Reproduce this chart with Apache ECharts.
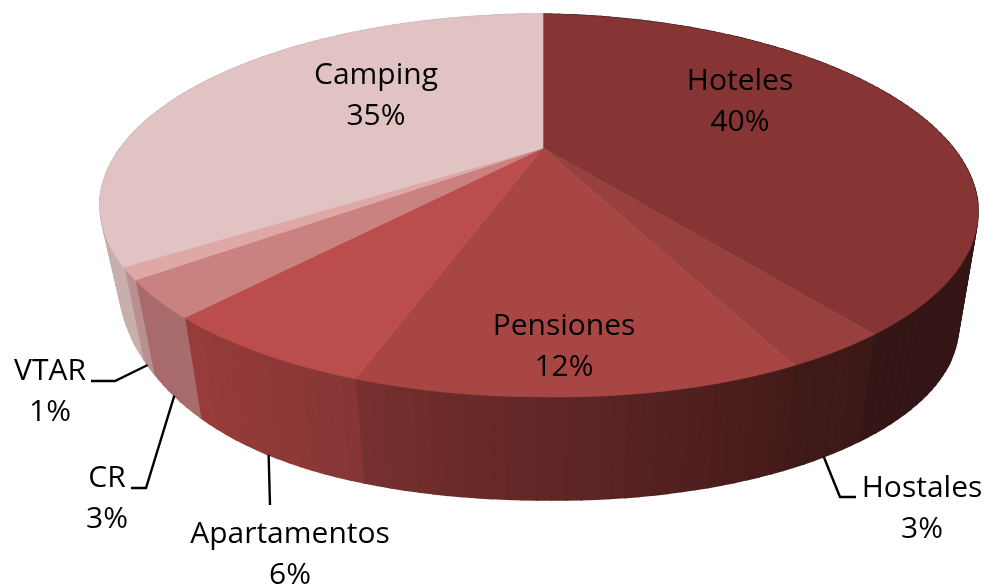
<!DOCTYPE html>
<html><head><meta charset="utf-8">
<style>html,body{margin:0;padding:0;background:#fff}#c{width:985px;height:586px}</style>
<script src="https://cdn.jsdelivr.net/npm/echarts@6/dist/echarts.min.js"></script>
</head><body><div id="c"></div>
<script>
// data
const categories = ['Hoteles','Hostales','Pensiones','Apartamentos','CR','VTAR','Camping'];
const shares = [39.6, 3.1, 12.45, 6.25, 3.0, 1.0, 34.6];
// colours
const topColors = ['#863534','#97403d','#a84644','#bb4e4c','#ca8280','#dea8a7','#e1c3c4'];
const wallLeft  = ['#331615','#401a19','#76302f','#973c3a','#a86a6a','#ba9090','#c9aeae'];
const wallRight = ['#331615','#3c1817','#441b1a','#843635','#a86c6c','#b89090','#c9aeae'];
// projection of the tilted disc
const P = {cx:543, cy:148, A:174.2, BR:415, BL:422.6, k:0.30, shearY:0.015, sx:0.955, sy:0.94, dropY:266, leftLift:18, leftRef:410};
function rim(turn){
  const a = turn*2*Math.PI, c = Math.sin(a), s = -Math.cos(a), d = 1-P.k*s;
  const X = (c>=0?P.BR:P.BL)*c/d, Y = P.A*s/d;
  return {dx:X, dy:Y+(c>=0?P.shearY*X:0)};
}
const topPt = t => { const r = rim(t); return [P.cx+r.dx, P.cy+r.dy]; };
const botPt = t => {
  const r = rim(t);
  const lift = r.dx<0 && r.dy>0 ? P.leftLift*Math.pow(-r.dx/P.leftRef,6) : 0;
  return [P.cx+P.sx*r.dx, P.dropY+P.sy*r.dy-lift];
};
const hex = h => [1,3,5].map(j=>parseInt(h.substr(j,2),16));
const mix = (a,b,f) => { const x=hex(a), y=hex(b); return 'rgb('+x.map((v,j)=>Math.round(v+(y[j]-v)*f)).join(',')+')'; };
// label layout: centre of the name line, line step, leader position inside the slice and elbows
const labelPos = [[740,81],[922,488],[564,326],[290,534],[107,478],[50,371],[376,75]];
const lineStep = 41;
const leaderFrac = [null,0.5,null,0.52,0.5,0.5,null];
const leaderElbows = [null,[[840,497],[856,497]],null,[[270,505]],[[146,488],[131,488]],[[115,381],[91,381]],null];
const total = shares.reduce((a,b)=>a+b,0);
const startTurn = i => shares.slice(0,i).reduce((a,b)=>a+b,0)/total;

function renderItem(params){
  const i = params.dataIndex, t0 = startTurn(i), t1 = t0 + shares[i]/total;
  const fineSteps = Math.max(3, Math.ceil((t1-t0)*720));
  const wallSteps = Math.max(3, Math.ceil((t1-t0)*240));
  const arc = (fn,steps) => { const a=[]; for(let n=0;n<=steps;n++) a.push(fn(t0+(t1-t0)*n/steps)); return a; };
  const topArc = arc(topPt,fineSteps), wTop = arc(topPt,wallSteps), wBot = arc(botPt,wallSteps);
  const xs = wBot.map(p=>p[0]), xMin=Math.min(...xs), xMax=Math.max(...xs);
  const children = [];
  for(let n=0;n<wallSteps;n++){
    const f = ((wBot[n][0]+wBot[n+1][0])/2-xMin)/(xMax-xMin||1);
    const col = mix(wallLeft[i],wallRight[i],f);
    children.push({type:'polygon', z2:1, silent:true,
      shape:{points:[wTop[n],wTop[n+1],wBot[n+1],wBot[n]]},
      style:{fill:col, stroke:col, lineWidth:1.5}});
  }
  children.push({type:'polygon', z2:2, silent:true, shape:{points:[[P.cx,P.cy]].concat(topArc)}, style:{fill:topColors[i], stroke:topColors[i], lineWidth:0.6}});
  if(leaderFrac[i]!==null){
    const st = botPt(t0+(t1-t0)*leaderFrac[i]);
    children.push({type:'polyline', z2:3, silent:true, shape:{points:[st].concat(leaderElbows[i])},
      style:{fill:null, stroke:'#000', lineWidth:2.4}});
  }
  const [lx,ly]=labelPos[i];
  const common={fill:'#000', font:'500 30px "Open Sans", "Noto Sans", sans-serif', textAlign:'center', textVerticalAlign:'middle'};
  children.push({type:'text', z2:4, silent:true, style:Object.assign({text:categories[i], x:lx, y:ly},common)});
  children.push({type:'text', z2:4, silent:true, style:Object.assign({text:Math.round(shares[i]/total*100)+'%', x:lx, y:ly+lineStep},common)});
  return {type:'group', children};
}
const chart = echarts.init(document.getElementById('c'), null, {renderer:'canvas'});
chart.setOption({
  animation:false, backgroundColor:'#fff',
  series:[{type:'custom', coordinateSystem:'none', renderItem,
    data:categories.map((name,i)=>({name, value:shares[i]}))}]
});
</script></body></html>
